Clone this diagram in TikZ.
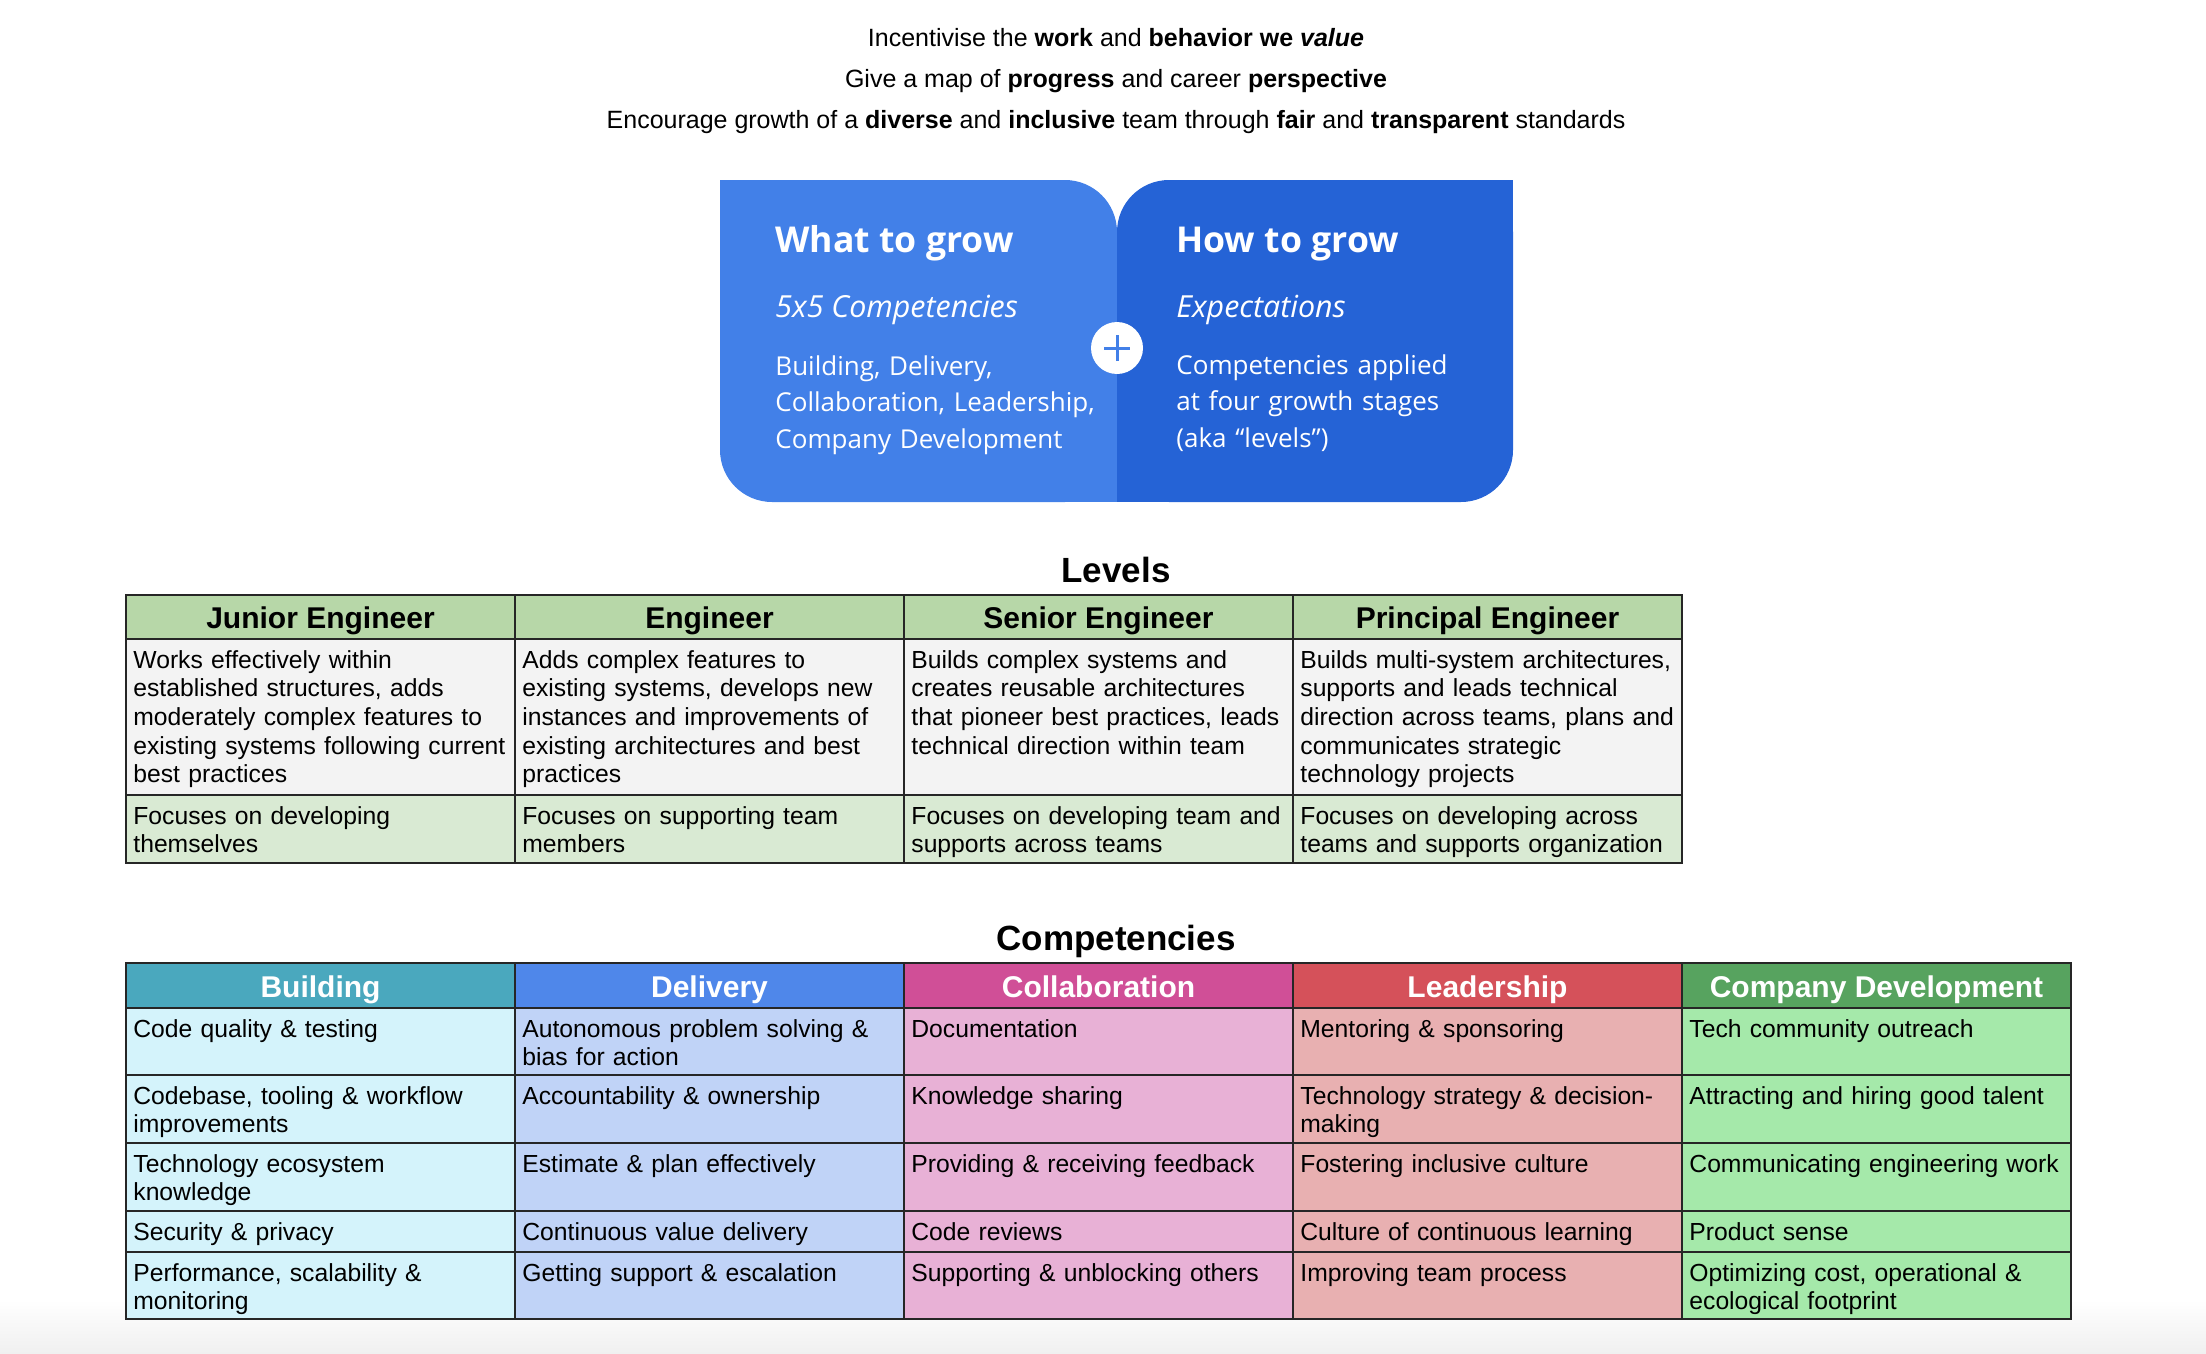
\documentclass[tikz,border=0pt]{standalone}
\usepackage{fontspec}
\setmainfont{Liberation Sans}
\newfontfamily\opensans{Open Sans}

\definecolor{whatblue}{HTML}{4280E8}
\definecolor{howblue}{HTML}{2563D6}
\definecolor{lvlgreen}{HTML}{B7D7A8}
\definecolor{lvlgrey}{HTML}{F3F3F3}
\definecolor{lvlpale}{HTML}{D9EAD3}
\definecolor{bldteal}{HTML}{4AA8BE}
\definecolor{bldpale}{HTML}{D4F3FB}
\definecolor{dlvblue}{HTML}{4F87EA}
\definecolor{dlvpale}{HTML}{C0D3F7}
\definecolor{colpink}{HTML}{D04F97}
\definecolor{colpale}{HTML}{E8B1D6}
\definecolor{ldrred}{HTML}{D5515A}
\definecolor{ldrpale}{HTML}{E8B0B1}
\definecolor{cmpgreen}{HTML}{57A35F}
\definecolor{cmppale}{HTML}{A5E9AA}

\begin{document}
\begin{tikzpicture}[x=0.5pt,y=-0.5pt,
    tabline/.style={draw=black!85, line width=1.1pt},
    tabframe/.style={draw=black!85, line width=1.4pt},
    celltext/.style={anchor=base west, inner sep=0pt, text width=200pt, align=left, font=\fontsize{12.35}{14.35}\selectfont},
    levelhead/.style={anchor=base, inner sep=0pt, font=\bfseries\fontsize{15}{18}\selectfont},
    comphead/.style={levelhead, text=white},
    sectitle/.style={anchor=base, inner sep=0pt, font=\bfseries\fontsize{17.5}{21}\selectfont},
    goal/.style={anchor=base, inner sep=0pt, font=\fontsize{12.5}{15}\selectfont},
    boxtitle/.style={anchor=base west, inner sep=0pt, text=white, font=\opensans\bfseries\fontsize{17.8}{21}\selectfont},
    boxsub/.style={boxtitle, font=\opensans\itshape\fontsize{15.2}{18.25}\selectfont},
    boxbody/.style={boxtitle, text width=180pt, align=left, font=\opensans\fontsize{13}{18.25}\selectfont}]
    \useasboundingbox (0,0) rectangle (2206,1354);
    \shade[top color=white, bottom color=black!6] (0,1300) rectangle (2206,1354);

    % goals
    \node[goal] (goal1) at (1116,47) {Incentivise the \textbf{work} and \textbf{behavior we \textit{value}}};
    \node[goal] (goal2) at (1116,88) {Give a map of \textbf{progress} and career \textbf{perspective}};
    \node[goal] (goal3) at (1116,129) {Encourage growth of a \textbf{diverse} and \textbf{inclusive} team through \textbf{fair} and \textbf{transparent} standards};

    % what / how
    \fill[whatblue, rounded corners=26pt] (720,180) rectangle (1117,502);
    \fill[whatblue] (720,180) rectangle (800,260);
    \fill[whatblue] (1040,420) rectangle (1117,502);
    \fill[howblue, rounded corners=26pt] (1117,180) rectangle (1513,502);
    \fill[howblue] (1433,180) rectangle (1513,260);
    \fill[howblue] (1117,420) rectangle (1197,502);
    \node[boxtitle] (what) at (775,252) {What to grow};
    \node[boxsub] (whatsub) at (775,317) {5x5 Competencies};
    \node[boxbody] (whattext) at (775,375) {Building, Delivery,\\Collaboration, Leadership,\\Company Development};
    \node[boxtitle] (how) at (1176,252) {How to grow};
    \node[boxsub] (howsub) at (1176,317) {Expectations};
    \node[boxbody] (howtext) at (1176,374) {Competencies applied\\at four growth stages\\(aka “levels”)};
    \node[circle, fill=white, minimum size=26pt, inner sep=0pt] (plus) at (1117,348) {};
    \draw[whatblue, line width=1.5pt] ([xshift=-6.5pt]plus.center) -- ([xshift=6.5pt]plus.center);
    \draw[whatblue, line width=1.5pt] ([yshift=-6.5pt]plus.center) -- ([yshift=6.5pt]plus.center);

    % levels
    \node[sectitle] (levels) at (1116,582) {Levels};
    \fill[lvlgreen] (126,595) rectangle (1682,639);
    \fill[lvlgrey] (126,639) rectangle (1682,795);
    \fill[lvlpale] (126,795) rectangle (1682,863);
    \foreach \x in {515,904,1293} \draw[tabline] (\x,595) -- (\x,863);
    \foreach \y in {639,795} \draw[tabline] (126,\y) -- (1682,\y);
    \draw[tabframe] (126,595) rectangle (1682,863);
    \foreach \c/\t in {0/Junior Engineer, 1/Engineer, 2/Senior Engineer, 3/Principal Engineer}
        \node[levelhead] (lvl\c) at (320.5+389*\c,628) {\t};
    \foreach \c/\t in {0/{Works effectively within\\established structures, adds\\moderately complex features to\\existing systems following current\\best practices},
                       1/{Adds complex features to\\existing systems, develops new\\instances and improvements of\\existing architectures and best\\practices},
                       2/{Builds complex systems and\\creates reusable architectures\\that pioneer best practices, leads\\technical direction within team},
                       3/{Builds multi-system architectures,\\supports and leads technical\\direction across teams, plans and\\communicates strategic\\technology projects}}
        \node[celltext] (desc\c) at (133+389*\c,668) {\t};
    \foreach \c/\t in {0/{Focuses on developing\\themselves},
                       1/{Focuses on supporting team\\members},
                       2/{Focuses on developing team and\\supports across teams},
                       3/{Focuses on developing across\\teams and supports organization}}
        \node[celltext] (focus\c) at (133+389*\c,824) {\t};

    % competencies
    \node[sectitle] (comps) at (1116,950) {Competencies};
    \foreach \x/\hd/\bd/\t/\k in {126/bldteal/bldpale/Building/bld, 515/dlvblue/dlvpale/Delivery/dlv,
                                  904/colpink/colpale/Collaboration/col, 1293/ldrred/ldrpale/Leadership/ldr,
                                  1682/cmpgreen/cmppale/Company Development/cmp} {
        \fill[\hd] (\x,963) rectangle ++(389,45);
        \fill[\bd] (\x,1008) rectangle ++(389,311);
        \node[comphead] (\k-head) at (\x+194.5,997) {\t};
    }
    \foreach \x in {515,904,1293,1682} \draw[tabline] (\x,963) -- (\x,1319);
    \foreach \y in {1008,1075,1143,1211,1252} \draw[tabline] (126,\y) -- (2071,\y);
    \draw[tabframe] (126,963) rectangle (2071,1319);
    \foreach \y/\t [count=\i] in {1037/{Code quality \& testing}, 1104/{Codebase, tooling \& workflow\\improvements},
                                  1172/{Technology ecosystem\\knowledge}, 1240/{Security \& privacy},
                                  1281/{Performance, scalability \&\\monitoring}}
        \node[celltext] (bld-\i) at (133,\y) {\t};
    \foreach \y/\t [count=\i] in {1037/{Autonomous problem solving \&\\bias for action}, 1104/{Accountability \& ownership},
                                  1172/{Estimate \& plan effectively}, 1240/{Continuous value delivery},
                                  1281/{Getting support \& escalation}}
        \node[celltext] (dlv-\i) at (522,\y) {\t};
    \foreach \y/\t [count=\i] in {1037/{Documentation}, 1104/{Knowledge sharing},
                                  1172/{Providing \& receiving feedback}, 1240/{Code reviews},
                                  1281/{Supporting \& unblocking others}}
        \node[celltext] (col-\i) at (911,\y) {\t};
    \foreach \y/\t [count=\i] in {1037/{Mentoring \& sponsoring}, 1104/{Technology strategy \& decision-\\making},
                                  1172/{Fostering inclusive culture}, 1240/{Culture of continuous learning},
                                  1281/{Improving team process}}
        \node[celltext] (ldr-\i) at (1300,\y) {\t};
    \foreach \y/\t [count=\i] in {1037/{Tech community outreach}, 1104/{Attracting and hiring good talent},
                                  1172/{Communicating engineering work}, 1240/{Product sense},
                                  1281/{Optimizing cost, operational \&\\ecological footprint}}
        \node[celltext] (cmp-\i) at (1689,\y) {\t};
\end{tikzpicture}
\end{document}
